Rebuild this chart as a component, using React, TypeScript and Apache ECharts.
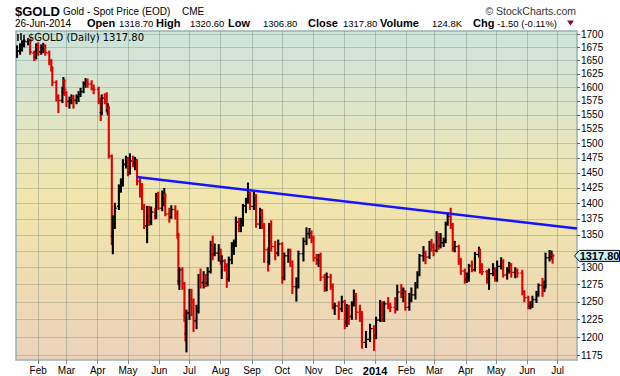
import React, { useEffect, useRef } from 'react';
import * as echarts from 'echarts';

// rows: [day, open, high, low, close]
const jan13 = [
  [11, 1662, 1678, 1656, 1668], [14, 1668, 1682, 1662, 1676], [16, 1676, 1688, 1668, 1684],
  [18, 1684, 1690, 1676, 1687], [22, 1686, 1692, 1680, 1690], [24, 1690, 1691, 1662, 1666],
  [28, 1664, 1668, 1650, 1655], [30, 1656, 1682, 1653, 1678],
];
const feb13 = [
  [1, 1676, 1684, 1660, 1667], [4, 1666, 1680, 1662, 1675], [6, 1674, 1683, 1665, 1678],
  [8, 1678, 1680, 1660, 1665], [12, 1664, 1668, 1642, 1648], [14, 1648, 1652, 1630, 1635],
  [15, 1634, 1638, 1603, 1609], [19, 1609, 1612, 1575, 1580], [21, 1582, 1586, 1554, 1576],
  [25, 1576, 1600, 1572, 1592], [26, 1592, 1618, 1588, 1612], [27, 1612, 1614, 1585, 1596],
];
const mar13 = [
  [1, 1590, 1592, 1565, 1574], [4, 1574, 1582, 1562, 1576], [6, 1576, 1586, 1570, 1580],
  [8, 1580, 1585, 1562, 1576], [11, 1576, 1586, 1570, 1582], [13, 1582, 1592, 1574, 1588],
  [15, 1588, 1598, 1583, 1592], [18, 1592, 1610, 1590, 1606], [20, 1606, 1616, 1600, 1612],
  [22, 1612, 1615, 1600, 1606], [26, 1606, 1612, 1595, 1598], [28, 1598, 1604, 1588, 1596],
];
const apr13 = [
  [2, 1596, 1600, 1570, 1575], [4, 1575, 1580, 1540, 1554], [5, 1554, 1586, 1550, 1580],
  [8, 1580, 1588, 1570, 1575], [10, 1575, 1590, 1555, 1558], [11, 1558, 1570, 1550, 1562],
  [12, 1562, 1565, 1475, 1478], [15, 1478, 1480, 1335, 1348], [16, 1348, 1380, 1321, 1368],
  [18, 1368, 1400, 1360, 1392], [22, 1395, 1430, 1390, 1424], [24, 1424, 1440, 1418, 1431],
  [26, 1432, 1472, 1428, 1464], [29, 1464, 1478, 1458, 1470],
];
const may13 = [
  [1, 1472, 1476, 1445, 1448], [3, 1450, 1482, 1448, 1470], [6, 1470, 1478, 1460, 1466],
  [8, 1466, 1476, 1455, 1472], [10, 1470, 1472, 1430, 1436], [13, 1436, 1440, 1410, 1430],
  [15, 1430, 1432, 1390, 1395], [17, 1395, 1398, 1360, 1364], [20, 1364, 1395, 1338, 1384],
  [22, 1385, 1395, 1365, 1370], [24, 1370, 1394, 1366, 1386], [28, 1386, 1392, 1375, 1380],
  [29, 1380, 1416, 1376, 1410], [31, 1410, 1418, 1390, 1392],
];
const jun13 = [
  [4, 1392, 1420, 1388, 1400], [6, 1400, 1424, 1396, 1412], [7, 1412, 1416, 1380, 1383],
  [11, 1383, 1392, 1370, 1378], [13, 1378, 1396, 1376, 1390], [17, 1390, 1396, 1375, 1383],
  [19, 1383, 1388, 1345, 1350], [20, 1350, 1352, 1275, 1280], [21, 1280, 1300, 1268, 1297],
  [24, 1297, 1300, 1268, 1276], [26, 1276, 1278, 1222, 1230], [27, 1230, 1236, 1195, 1205],
  [28, 1205, 1238, 1180, 1234],
];
const jul13 = [
  [1, 1234, 1268, 1225, 1254], [3, 1254, 1268, 1230, 1250], [5, 1250, 1254, 1208, 1223],
  [8, 1223, 1245, 1212, 1236], [10, 1236, 1290, 1234, 1282], [12, 1282, 1298, 1270, 1278],
  [15, 1278, 1294, 1270, 1284], [17, 1284, 1290, 1272, 1277], [19, 1277, 1300, 1273, 1294],
  [22, 1294, 1340, 1292, 1335], [24, 1335, 1348, 1312, 1321], [26, 1321, 1336, 1318, 1322],
  [30, 1322, 1335, 1310, 1324],
];
const aug13 = [
  [1, 1324, 1328, 1305, 1309], [2, 1309, 1318, 1284, 1310], [5, 1310, 1312, 1295, 1302],
  [7, 1302, 1306, 1271, 1283], [9, 1283, 1316, 1280, 1312], [12, 1312, 1338, 1306, 1334],
  [14, 1334, 1342, 1320, 1336], [16, 1336, 1378, 1332, 1370], [19, 1370, 1376, 1355, 1365],
  [21, 1365, 1376, 1355, 1369], [23, 1369, 1398, 1364, 1396], [26, 1396, 1408, 1385, 1405],
  [28, 1405, 1433, 1400, 1416], [30, 1416, 1418, 1390, 1395],
];
const sep13 = [
  [3, 1395, 1418, 1390, 1412], [5, 1412, 1414, 1362, 1367], [9, 1367, 1392, 1360, 1385],
  [11, 1385, 1390, 1360, 1365], [13, 1365, 1368, 1308, 1327], [17, 1327, 1330, 1295, 1309],
  [18, 1309, 1368, 1305, 1365], [20, 1365, 1372, 1325, 1332], [24, 1332, 1340, 1312, 1322],
  [27, 1322, 1342, 1318, 1336],
];
const oct13 = [
  [1, 1336, 1338, 1277, 1285], [3, 1285, 1322, 1282, 1318], [7, 1318, 1328, 1308, 1325],
  [9, 1325, 1328, 1302, 1308], [11, 1308, 1310, 1262, 1272], [15, 1272, 1285, 1251, 1274],
  [17, 1274, 1325, 1270, 1321], [22, 1321, 1345, 1310, 1340], [25, 1340, 1361, 1335, 1352],
  [28, 1352, 1360, 1345, 1353], [30, 1353, 1356, 1338, 1345],
];
const nov13 = [
  [1, 1345, 1348, 1310, 1315], [4, 1315, 1320, 1305, 1312], [6, 1312, 1320, 1302, 1317],
  [8, 1317, 1322, 1281, 1286], [12, 1286, 1290, 1265, 1270], [14, 1270, 1292, 1266, 1286],
  [18, 1286, 1290, 1268, 1273], [20, 1273, 1276, 1240, 1243], [22, 1241, 1248, 1232, 1244],
  [26, 1244, 1250, 1225, 1240], [29, 1240, 1258, 1236, 1250],
];
const dec13 = [
  [2, 1250, 1252, 1212, 1221], [4, 1221, 1246, 1215, 1243], [6, 1243, 1245, 1218, 1229],
  [9, 1229, 1250, 1225, 1247], [11, 1247, 1267, 1244, 1260], [13, 1260, 1262, 1225, 1235],
  [17, 1235, 1245, 1222, 1231], [19, 1231, 1236, 1185, 1193], [23, 1193, 1208, 1186, 1197],
  [27, 1197, 1218, 1194, 1212], [31, 1212, 1216, 1182, 1202],
];
const jan14 = [
  [2, 1202, 1228, 1198, 1224], [6, 1224, 1252, 1222, 1247], [8, 1247, 1250, 1222, 1225],
  [10, 1225, 1250, 1222, 1247], [14, 1247, 1256, 1240, 1244], [16, 1244, 1248, 1236, 1242],
  [21, 1242, 1256, 1234, 1240], [23, 1240, 1274, 1238, 1264], [27, 1264, 1275, 1256, 1262],
  [29, 1262, 1270, 1250, 1265], [31, 1265, 1266, 1238, 1242],
];
const feb14 = [
  [4, 1242, 1262, 1238, 1252], [6, 1252, 1270, 1250, 1260], [10, 1260, 1278, 1254, 1274],
  [12, 1274, 1294, 1270, 1290], [14, 1290, 1320, 1288, 1318], [18, 1318, 1332, 1310, 1322],
  [20, 1322, 1325, 1306, 1316], [24, 1316, 1340, 1314, 1336], [26, 1336, 1343, 1325, 1331],
  [28, 1331, 1336, 1318, 1326],
];
const mar14 = [
  [3, 1326, 1355, 1324, 1350], [5, 1350, 1352, 1328, 1333], [7, 1333, 1352, 1330, 1338],
  [10, 1338, 1345, 1332, 1341], [12, 1341, 1370, 1338, 1367], [14, 1367, 1385, 1365, 1379],
  [17, 1379, 1392, 1360, 1366], [19, 1366, 1368, 1325, 1329], [21, 1329, 1340, 1324, 1332],
  [25, 1332, 1334, 1305, 1311], [27, 1311, 1314, 1290, 1295], [31, 1295, 1298, 1277, 1283],
];
const apr14 = [
  [2, 1283, 1292, 1278, 1290], [4, 1290, 1305, 1280, 1303], [7, 1303, 1310, 1294, 1297],
  [10, 1297, 1323, 1295, 1320], [14, 1320, 1331, 1316, 1326], [15, 1326, 1328, 1292, 1302],
  [17, 1302, 1306, 1290, 1294], [22, 1294, 1296, 1277, 1283], [24, 1283, 1298, 1268, 1291],
  [28, 1291, 1306, 1288, 1296], [30, 1296, 1300, 1280, 1284],
];
const may14 = [
  [2, 1284, 1310, 1280, 1302], [6, 1302, 1315, 1298, 1308], [8, 1308, 1312, 1286, 1289],
  [12, 1289, 1300, 1283, 1296], [14, 1296, 1308, 1292, 1305], [16, 1305, 1306, 1286, 1293],
  [20, 1293, 1300, 1285, 1295], [22, 1295, 1298, 1286, 1292], [27, 1292, 1296, 1260, 1264],
  [29, 1264, 1266, 1250, 1256],
];
const jun14 = [
  [2, 1256, 1258, 1240, 1244], [4, 1244, 1250, 1240, 1246], [6, 1246, 1258, 1242, 1253],
  [10, 1253, 1265, 1249, 1261], [12, 1261, 1276, 1258, 1274], [16, 1274, 1284, 1258, 1271],
  [18, 1271, 1280, 1265, 1274], [19, 1274, 1322, 1270, 1315], [23, 1315, 1326, 1310, 1318],
  [25, 1318, 1325, 1313, 1319], [26, 1318.7, 1320.6, 1306.8, 1317.8],
];

const monthBlocks: [number, number, number[][]][] = [
  [2013, 0, jan13], [2013, 1, feb13], [2013, 2, mar13], [2013, 3, apr13], [2013, 4, may13],
  [2013, 5, jun13], [2013, 6, jul13], [2013, 7, aug13], [2013, 8, sep13], [2013, 9, oct13],
  [2013, 10, nov13], [2013, 11, dec13], [2014, 0, jan14], [2014, 1, feb14], [2014, 2, mar14],
  [2014, 3, apr14], [2014, 4, may14], [2014, 5, jun14],
];

const priceTicks = [1175, 1200, 1225, 1250, 1275, 1300, 1325, 1350, 1375, 1400, 1425, 1450,
  1475, 1500, 1525, 1550, 1575, 1600, 1625, 1650, 1675, 1700];
// 1325 sits behind the last-price tag, as in the original
const priceLabels = priceTicks.filter((v) => v !== 1325);
const monthTicks = [
  [2013, 1], [2013, 2], [2013, 3], [2013, 4], [2013, 5], [2013, 6], [2013, 7], [2013, 8],
  [2013, 9], [2013, 10], [2013, 11], [2014, 0], [2014, 1], [2014, 2], [2014, 3], [2014, 4],
  [2014, 5], [2014, 6],
];
const monthNames = ['Jan', 'Feb', 'Mar', 'Apr', 'May', 'Jun', 'Jul', 'Aug', 'Sep', 'Oct', 'Nov', 'Dec'];

const trendDates = [new Date(2013, 4, 9, 16).getTime(), new Date(2014, 6, 20, 5).getTime()];
const trendValues = [1443, 1360];

const lastClose = 1317.8;
const headerValues = { date: '26-Jun-2014', open: '1318.70', high: '1320.60', low: '1306.80', close: '1317.80', volume: '124.8K', chg: '-1.50 (-0.11%)' };

const F = '"Liberation Sans", Arial, sans-serif';

function txt(text: string, x: number, y: number, font: string, fill = '#000', align = 'left') {
  return {
    type: 'text', x, y, silent: true, z: 100,
    style: { text, font, fill, align, verticalAlign: 'middle', textAlign: align, textVerticalAlign: 'middle' },
  };
}

export default function App() {
  const ref = useRef<HTMLDivElement>(null);
  useEffect(() => {
    const chart = echarts.init(ref.current!, null, { renderer: 'svg' });
    const bars = monthBlocks.flatMap(([y, m, rows]) =>
      rows.map((r) => [new Date(y, m, r[0]).getTime(), r[1], r[2], r[3], r[4]]));
    const xMin = new Date(2013, 0, 10).getTime();
    const xMax = new Date(2014, 6, 20, 5).getTime();
    const xTicks = monthTicks.map(([y, m]) => new Date(y, m, 1).getTime());
    const bg = new echarts.graphic.LinearGradient(0, 0, 0, 1, [
      { offset: 0, color: '#cce4dc' },
      { offset: 0.25, color: '#dfe5c8' },
      { offset: 0.5, color: '#f1e6ac' },
      { offset: 0.75, color: '#eedcb2' },
      { offset: 1, color: '#ebd3bb' },
    ]);
    chart.setOption({
      animation: false,
      textStyle: { fontFamily: F },
      grid: {
        left: 16, right: 43, top: 31, bottom: 16, show: true,
        backgroundColor: bg, borderColor: '#98b2b0', borderWidth: 1.5,
      },
      xAxis: {
        type: 'value', min: xMin, max: xMax, scale: true,
        axisLine: { show: false },
        axisTick: { show: true, customValues: xTicks, length: 4, lineStyle: { color: '#888' } },
        axisLabel: {
          customValues: xTicks, margin: 5, fontSize: 10, color: '#000', fontFamily: F,
          formatter: (v: number) => {
            const d = new Date(v);
            return d.getMonth() === 0 ? '{y|' + d.getFullYear() + '}' : monthNames[d.getMonth()];
          },
          rich: { y: { fontWeight: 'bold', fontSize: 11, fontFamily: F, color: '#000' } },
        },
        splitLine: { show: true, lineStyle: { color: 'rgba(110,125,110,0.38)', width: 1 } },
      },
      yAxis: {
        type: 'log', logBase: 10, min: 1169, max: 1707, position: 'right',
        axisLine: { show: false },
        axisTick: { show: true, customValues: priceTicks, length: 3, lineStyle: { color: '#666' } },
        axisLabel: {
          customValues: priceLabels, margin: 4, fontSize: 10, color: '#000', fontFamily: F,
          formatter: (v: number) => String(Math.round(v)),
        },
        splitLine: { show: true, lineStyle: { color: 'rgba(110,125,110,0.32)', width: 1 } },
        minorTick: { show: false },
      },
      series: [
        {
          type: 'custom',
          data: bars,
          dimensions: ['date', 'open', 'high', 'low', 'close'],
          encode: { x: 0, y: [1, 2, 3, 4] },
          clip: true,
          renderItem: (params: any, api: any) => {
            const t = api.value(0);
            const o = api.value(1), h = api.value(2), l = api.value(3), c = api.value(4);
            const pH = api.coord([t, h]);
            const pL = api.coord([t, l]);
            const pO = api.coord([t, o]);
            const pC = api.coord([t, c]);
            const color = c >= o ? '#000000' : '#e00000';
            const x = pH[0];
            return {
              type: 'group',
              children: [
                { type: 'line', shape: { x1: x, y1: pH[1] - 0.5, x2: x, y2: pL[1] + 0.5 }, style: { stroke: color, lineWidth: 2.1 } },
                { type: 'line', shape: { x1: x - 2, y1: pO[1], x2: x, y2: pO[1] }, style: { stroke: color, lineWidth: 1.3 } },
                { type: 'line', shape: { x1: x, y1: pC[1], x2: x + 2, y2: pC[1] }, style: { stroke: color, lineWidth: 1.3 } },
              ],
            };
          },
          z: 3,
        },
        {
          type: 'line',
          data: trendDates.map((d, i) => [d, trendValues[i]]),
          showSymbol: false,
          lineStyle: { color: '#1414ff', width: 2.5 },
          z: 4,
        },
      ],
    });

    const yTag = chart.convertToPixel({ yAxisIndex: 0 }, lastClose) as number;
    const bold = 'bold 11px ' + F;
    const reg = '9.5px ' + F;
    const L2 = 23;
    chart.setOption({
      graphic: [
        txt('$GOLD', 15, 11, 'bold 13px ' + F),
        txt('Gold - Spot Price (EOD)', 63, 11, '10px ' + F),
        txt('CME', 182, 11, '10px ' + F),
        txt('© StockCharts.com', 576, 11, '10.5px ' + F, '#333', 'right'),
        txt(headerValues.date, 15, L2, '10px ' + F),
        txt('Open', 87, L2, bold), txt(headerValues.open, 119, L2, reg),
        txt('High', 156, L2, bold), txt(headerValues.high, 190, L2, reg),
        txt('Low', 228, L2, bold), txt(headerValues.low, 263, L2, reg),
        txt('Close', 308, L2, bold), txt(headerValues.close, 343, L2, reg),
        txt('Volume', 380, L2, bold), txt(headerValues.volume, 432, L2, reg),
        txt('Chg', 473, L2, bold), txt(headerValues.chg, 497, L2, reg),
        {
          type: 'polygon', silent: true, z: 100,
          shape: { points: [[567, 20.5], [574, 20.5], [570.5, 25.5]] },
          style: { fill: '#8a0a30' },
        },
        { type: 'line', z: 100, shape: { x1: 18, y1: 34, x2: 18, y2: 41 }, style: { stroke: '#000', lineWidth: 1.5 } },
        { type: 'line', z: 100, shape: { x1: 21, y1: 33, x2: 21, y2: 40 }, style: { stroke: '#000', lineWidth: 1.5 } },
        { type: 'line', z: 100, shape: { x1: 24, y1: 35, x2: 24, y2: 41 }, style: { stroke: '#000', lineWidth: 1.5 } },
        txt('$GOLD (Daily) 1317.80', 28, 37.5, '10px "DejaVu Sans", sans-serif'),
        {
          type: 'polygon', silent: true, z: 100,
          shape: { points: [[574.5, yTag], [579.5, yTag - 5.5], [619.5, yTag - 5.5], [619.5, yTag + 5.5], [579.5, yTag + 5.5]] },
          style: { fill: '#c8f2fa', stroke: '#000', lineWidth: 1 },
        },
        txt(headerValues.close, 599.5, yTag + 0.5, 'bold 11px ' + F, '#000', 'center'),
      ],
    });
    return () => chart.dispose();
  }, []);
  return (
    <div
      ref={ref}
      style={{ position: 'fixed', left: 0, top: 0, width: 620, height: 376, background: '#ffffff' }}
    />
  );
}
